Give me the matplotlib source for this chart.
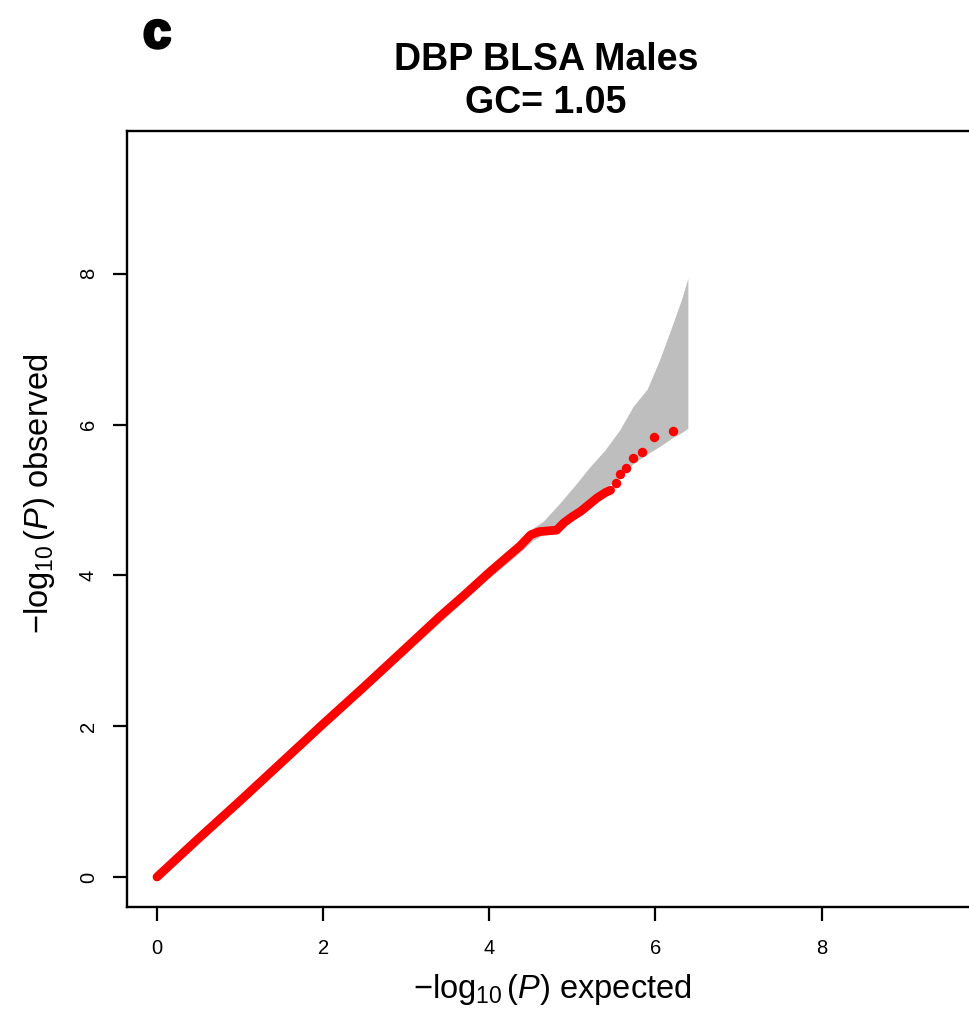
import numpy as np
import matplotlib
matplotlib.use('Agg')
import matplotlib.pyplot as plt
import matplotlib.patheffects as pe

plt.rcParams['font.family'] = ['Liberation Sans', 'DejaVu Sans']
plt.rcParams['mathtext.fontset'] = 'custom'
plt.rcParams['mathtext.rm'] = 'Liberation Sans'
plt.rcParams['mathtext.it'] = 'Liberation Sans:italic'
plt.rcParams['mathtext.bf'] = 'Liberation Sans:bold'

# QQ data (expected vs observed -log10 P)
dense_exp = [0.0, 0.5, 1.0, 1.5, 2.0, 2.5, 3.0, 3.4, 3.7, 4.0, 4.2, 4.37, 4.5,
             4.6, 4.7, 4.81, 4.9, 5.0, 5.1, 5.2, 5.3, 5.4, 5.46]
dense_obs = [0.0, 0.51, 1.01, 1.52, 2.03, 2.53, 3.04, 3.45, 3.74, 4.04, 4.23, 4.39, 4.54,
             4.58, 4.59, 4.60, 4.70, 4.78, 4.85, 4.94, 5.03, 5.10, 5.13]
tail_exp = [5.52, 5.57, 5.64, 5.73, 5.84, 5.98, 6.21]
tail_obs = [5.22, 5.35, 5.42, 5.56, 5.63, 5.84, 5.91]

# 95% confidence band
band_x = [0.0, 1.0, 2.0, 3.0, 3.5, 4.0, 4.3, 4.53, 4.65, 4.85, 5.05, 5.21, 5.39,
          5.57, 5.73, 5.90, 6.05, 6.21, 6.31, 6.39]
band_hi = [0.03, 1.04, 2.05, 3.06, 3.57, 4.08, 4.36, 4.63, 4.72, 4.96, 5.22, 5.44, 5.66,
           5.93, 6.24, 6.47, 6.86, 7.34, 7.65, 7.94]
band_lo = [0.0, 0.97, 1.97, 2.97, 3.47, 3.97, 4.24, 4.47, 4.54, 4.66, 4.84, 4.99, 5.14,
           5.32, 5.48, 5.61, 5.71, 5.83, 5.89, 5.95]

ticks = [0, 2, 4, 6, 8]
panel = 'c'
title1 = 'DBP BLSA Males'
title2 = 'GC= 1.05'

fig = plt.figure(figsize=(9.7, 10.14), dpi=100)
ax = fig.add_axes([127/970, 107/1014, (972-127)/970, (907-131)/1014])

ax.fill_between(band_x, band_lo, band_hi, color='#bebebe', linewidth=0)
ax.plot(dense_exp, dense_obs, color='red', lw=6.3, solid_capstyle='round',
        solid_joinstyle='round')
ax.plot(tail_exp, tail_obs, 'o', color='red', ms=6.8, mec='none')

ax.set_xlim(-0.361, 9.81)
ax.set_ylim(-0.398, 9.894)
ax.set_xticks(ticks)
ax.set_yticks(ticks)
ax.tick_params(direction='out', length=10, width=1.6, labelsize=14.5)
ax.tick_params(axis='x', pad=13)
ax.tick_params(axis='y', pad=11, labelrotation=90)
for lab in ax.get_yticklabels():
    lab.set_verticalalignment('center')
for s in ['left', 'bottom', 'top']:
    ax.spines[s].set_linewidth(1.7)
ax.spines['right'].set_visible(False)

fig.text(0.569, 0.0237, r'$-\log_{10}(P)$ expected', fontsize=23.5, ha='center', va='center')
fig.text(0.041, 0.513, r'$-\log_{10}(P)$ observed', fontsize=23.5, ha='center', va='center',
         rotation=90)
fig.text(0.563, 0.941, title1, fontsize=27, fontweight='bold', ha='center', va='center')
fig.text(0.563, 0.898, title2, fontsize=27, fontweight='bold', ha='center', va='center')
fig.text(0.162, 0.966, panel, fontsize=36, fontweight='bold', ha='center', va='center',
         path_effects=[pe.withStroke(linewidth=2.5, foreground='black')])

fig.savefig('out.png', dpi=100)
